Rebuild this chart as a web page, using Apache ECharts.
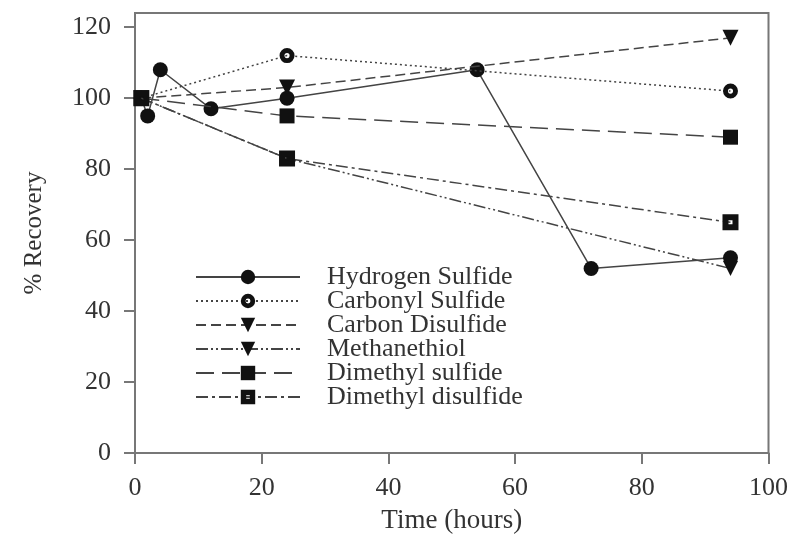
<!DOCTYPE html>
<html>
<head>
<meta charset="utf-8">
<script src="https://cdn.jsdelivr.net/npm/echarts@6/dist/echarts.min.js"></script>
<style>
html,body{margin:0;padding:0;background:#fff;}
#c{width:791px;height:547px;}
</style>
</head>
<body>
<div id="c"></div>
<script>
const seriesNames = ['Hydrogen Sulfide','Carbonyl Sulfide','Carbon Disulfide','Methanethiol','Dimethyl sulfide','Dimethyl disulfide'];
const h2sTime = [1, 2, 4, 12, 24, 54, 72, 94];
const h2sVal  = [100, 95, 108, 97, 100, 108, 52, 55];
const cosTime = [1, 24, 94];
const cosVal  = [100, 112, 102];
const cs2Time = [1, 24, 94];
const cs2Val  = [100, 103, 117];
const meshTime = [1, 24, 94];
const meshVal  = [100, 83, 52];
const dmsTime = [1, 24, 94];
const dmsVal  = [100, 95, 89];
const dmdsTime = [1, 24, 94];
const dmdsVal  = [100, 83, 65];
const yTicks = [0, 20, 40, 60, 80, 100, 120];
const xTicks = [0, 20, 40, 60, 80, 100];

function pairs(t, v){ return t.map((x,i)=>[x, v[i]]); }

const font = 'Liberation Serif, Times New Roman, serif';
const lineCol = '#444';
const mk = '#111';
// ring (circle with a small hole) and square with a small hole
const ringPath = 'path://M0,-7A7,7 0 1,0 0,7A7,7 0 1,0 0,-7ZM0,-2.4A2.4,2.4 0 1,1 0,2.4A2.4,2.4 0 1,1 0,-2.4Z';
const holeSquarePath = 'path://M0,0H16V16H0ZM6,6V10H10V6Z';

const chart = echarts.init(document.getElementById('c'));
const specs = [
  {t:h2sTime, v:h2sVal, sym:'circle', size:15, rot:0, dash:'solid'},
  {t:cosTime, v:cosVal, sym:ringPath, size:15, rot:0, dash:[2,3]},
  {t:cs2Time, v:cs2Val, sym:'triangle', size:16, rot:180, dash:[10,5]},
  {t:meshTime, v:meshVal, sym:'triangle', size:15, rot:180, dash:[12,3,2,3,2,3]},
  {t:dmsTime, v:dmsVal, sym:'rect', size:15, rot:0, dash:[18,8]},
  {t:dmdsTime, v:dmdsVal, sym:holeSquarePath, size:16, rot:0, dash:[12,4,3,4]}
];
const series = specs.map((s,i)=>({
  name: seriesNames[i],
  type: 'line',
  data: pairs(s.t, s.v),
  symbol: s.sym,
  symbolSize: s.size,
  symbolRotate: s.rot,
  symbolKeepAspect: true,
  showAllSymbol: true,
  lineStyle: {color: lineCol, width: 1.5, type: s.dash},
  itemStyle: {color: mk, borderWidth: 0},
  emphasis: {disabled: true},
  animation: false,
  z: 2 + i
}));

chart.setOption({
  animation: false,
  backgroundColor: '#fff',
  grid: {left: 135, right: 22, top: 13, bottom: 94, show: true, borderColor: '#777', borderWidth: 2, backgroundColor: 'transparent'},
  xAxis: {
    type: 'value', min: 0, max: 100, interval: 20,
    name: 'Time (hours)', nameLocation: 'middle', nameGap: 54,
    nameTextStyle: {fontFamily: font, fontSize: 27, color: '#333'},
    axisLine: {show: true, onZero: false, lineStyle: {color: '#777', width: 2}},
    axisTick: {show: true, inside: false, length: 11, lineStyle: {color: '#777', width: 2}},
    axisLabel: {fontFamily: font, fontSize: 26, color: '#333', margin: 22},
    splitLine: {show: false}
  },
  yAxis: {
    type: 'value', min: 0, max: 124,
    name: '% Recovery', nameLocation: 'middle', nameGap: 88,
    nameTextStyle: {fontFamily: font, fontSize: 25, color: '#333'},
    axisLine: {show: true, onZero: false, lineStyle: {color: '#777', width: 2}},
    axisTick: {show: true, inside: false, length: 11, customValues: yTicks, lineStyle: {color: '#777', width: 2}},
    axisLabel: {fontFamily: font, fontSize: 26, color: '#333', margin: 24, customValues: yTicks},
    splitLine: {show: false}
  },
  legend: {
    orient: 'vertical', left: 190, top: 259,
    itemWidth: 104, itemHeight: 18, itemGap: -2,
    selectedMode: false,
    textStyle: {fontFamily: font, fontSize: 26, color: '#333', lineHeight: 18, padding: [0,0,0,22]},
    data: seriesNames
  },
  series: series
});
</script>
</body>
</html>
